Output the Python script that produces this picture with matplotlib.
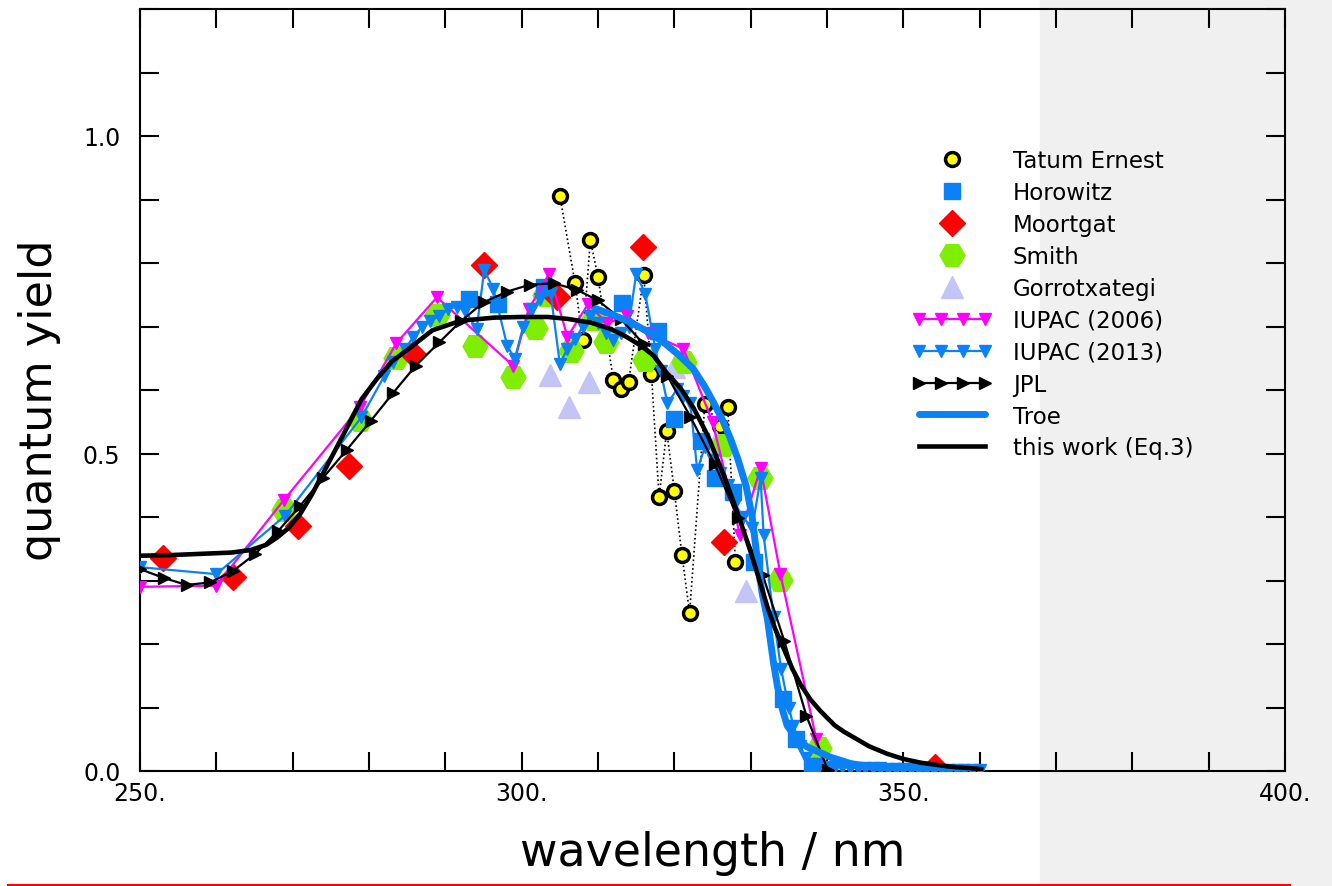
import matplotlib
matplotlib.use("Agg")
import matplotlib.pyplot as plt
from matplotlib.patches import Rectangle
from matplotlib.lines import Line2D
from matplotlib.legend_handler import HandlerLine2D

# quantum yield measurements vs wavelength (nm)
tatum_wl = [305, 307, 308, 309, 310, 312, 313, 314, 316, 317,
            318, 319, 320, 321, 322, 324, 326, 327, 328]
tatum_qy = [0.906, 0.768, 0.678, 0.836, 0.778, 0.616, 0.602, 0.612,
            0.781, 0.625, 0.431, 0.536, 0.441, 0.340, 0.249, 0.578,
            0.544, 0.573, 0.329]

horowitz_wl = [293.1, 296.9, 302.9, 313.1, 317.9, 320.0, 323.5, 325.3, 327.7,
               330.5, 334.2, 336.0, 338.0]
horowitz_qy = [0.743, 0.735, 0.762, 0.737, 0.693, 0.554, 0.520, 0.462, 0.439,
               0.329, 0.113, 0.050, 0.008]

moortgat_wl = [253.0, 262.2, 270.7, 277.4, 285.8, 295.1, 304.6, 315.9, 326.5,
               339.1, 354.1]
moortgat_qy = [0.335, 0.305, 0.386, 0.480, 0.657, 0.797, 0.746, 0.825, 0.360,
               0.0, 0.006]

smith_wl = [268.9, 278.8, 283.6, 288.9, 293.9, 298.9, 301.7, 303.0, 306.4,
            309.5, 311.1, 316.1, 321.3, 326.4, 331.2, 333.8, 338.9]
smith_qy = [0.411, 0.552, 0.650, 0.718, 0.670, 0.620, 0.698, 0.750, 0.661,
            0.712, 0.676, 0.648, 0.644, 0.513, 0.462, 0.301, 0.037]

gorro_wl = [303.7, 306.2, 308.8, 320.0, 325.5, 329.4]
gorro_qy = [0.623, 0.573, 0.612, 0.637, 0.518, 0.284]

iupac06_wl = [250.0, 260.0, 268.8, 278.8, 283.6, 288.9, 298.9, 300.9, 303.6,
              306.0, 308.7, 311.2, 313.8, 316.5, 321.2, 325.0, 328.6, 331.3,
              333.9, 338.6, 339.8]
iupac06_qy = [0.290, 0.292, 0.426, 0.573, 0.674, 0.746, 0.638, 0.727, 0.783,
              0.684, 0.735, 0.705, 0.717, 0.690, 0.665, 0.550, 0.372, 0.477,
              0.310, 0.050, 0.002]

iupac13_wl = [250.0, 260.0, 269.0, 279.0, 282.0, 283.2, 284.7, 285.8, 286.9,
              288.0, 289.2, 290.4, 291.5, 292.6, 294.1, 295.1, 296.3, 298.1,
              299.1, 300.2, 301.3, 302.4, 303.8, 305.0, 306.0, 307.0, 308.0,
              309.0, 310.0, 311.0, 312.0, 313.0, 314.0, 315.0, 316.2, 317.5,
              318.2, 319.1, 320.4, 321.2, 322.1, 323.0, 324.0, 325.0, 326.0,
              327.0, 328.0, 329.0, 330.2, 331.3, 331.7, 333.0, 334.0, 335.0,
              335.6, 336.5, 337.2, 338.0, 339.0, 340.0, 341.0, 342.0, 343.0,
              344.0, 345.0, 346.0, 347.0, 348.0, 349.0, 350.0, 351.0, 352.0,
              353.0, 354.0, 355.0, 356.0, 357.0, 358.0, 359.0, 360.0]
iupac13_qy = [0.321, 0.310, 0.402, 0.557, 0.622, 0.644, 0.665, 0.683, 0.699,
              0.709, 0.716, 0.728, 0.731, 0.725, 0.696, 0.789, 0.759, 0.670,
              0.649, 0.700, 0.728, 0.743, 0.752, 0.641, 0.665, 0.680, 0.700,
              0.716, 0.705, 0.690, 0.678, 0.690, 0.700, 0.783, 0.751, 0.665,
              0.630, 0.579, 0.602, 0.590, 0.579, 0.474, 0.510, 0.490, 0.470,
              0.450, 0.420, 0.400, 0.382, 0.461, 0.371, 0.242, 0.160, 0.100,
              0.071, 0.040, 0.020, 0.011, 0.008, 0.007, 0.006, 0.006, 0.005,
              0.005, 0.004, 0.004, 0.004, 0.003, 0.003, 0.003, 0.003, 0.002,
              0.002, 0.002, 0.002, 0.002, 0.001, 0.001, 0.001, 0.001]

jpl_wl = [250.0, 253.1, 256.1, 259.2, 262.2, 265.1, 268.1, 271.0, 274.0, 277.1,
          280.2, 283.2, 286.1, 289.2, 292.0, 295.0, 298.1, 301.1, 304.2, 307.2,
          310.0, 313.0, 316.0, 319.1, 322.1, 325.3, 328.3, 331.6, 334.4, 337.3,
          340.1]
jpl_qy = [0.318, 0.304, 0.293, 0.297, 0.315, 0.342, 0.378, 0.418, 0.462, 0.506,
          0.551, 0.596, 0.638, 0.675, 0.708, 0.738, 0.755, 0.766, 0.768, 0.758,
          0.741, 0.712, 0.672, 0.622, 0.558, 0.483, 0.399, 0.308, 0.205, 0.087,
          0.002]

troe_wl = [309.7, 312.0, 314.2, 316.5, 318.6, 320.6, 322.5, 324.0, 325.1, 326.3,
           327.3, 328.3, 329.4, 330.2, 330.8, 331.5, 332.2, 333.0, 333.5, 334.2,
           334.8, 336.0, 337.4, 340.4, 343.0, 345.8, 350.0, 355.0, 360.2]
troe_qy = [0.728, 0.718, 0.707, 0.692, 0.675, 0.655, 0.633, 0.605, 0.581, 0.553,
           0.525, 0.492, 0.449, 0.400, 0.340, 0.280, 0.239, 0.170, 0.134, 0.095,
           0.071, 0.052, 0.038, 0.022, 0.012, 0.006, 0.003, 0.001, 0.0005]

fit_wl = [250.0, 254.0, 258.0, 262.0, 264.5, 266.5, 268.0, 269.5, 271.0, 272.5,
          274.3, 276.0, 277.6, 279.0, 281.0, 283.0, 285.0, 288.3, 292.0, 296.4,
          300.0, 303.4, 306.0, 309.1, 311.7, 313.4, 315.6, 317.3, 319.0, 320.8,
          322.5, 323.5, 324.5, 325.5, 326.5, 327.5, 328.6, 330.0, 331.2, 332.2,
          333.2, 334.5, 335.5, 336.6, 337.8, 339.1, 340.0, 341.0, 342.2, 343.5,
          345.5, 347.9, 350.0, 352.3, 356.0, 360.2]
fit_qy = [0.339, 0.340, 0.342, 0.344, 0.348, 0.356, 0.368, 0.383, 0.405, 0.435,
          0.476, 0.515, 0.552, 0.585, 0.617, 0.645, 0.663, 0.694, 0.709, 0.714,
          0.715, 0.715, 0.712, 0.706, 0.696, 0.686, 0.670, 0.654, 0.627, 0.603,
          0.572, 0.549, 0.525, 0.495, 0.465, 0.432, 0.395, 0.345, 0.298, 0.258,
          0.224, 0.188, 0.160, 0.135, 0.113, 0.095, 0.084, 0.072, 0.062, 0.053,
          0.039, 0.027, 0.019, 0.013, 0.007, 0.003]

x_ticks = list(range(250, 401, 10))
x_labels = {250: "250.", 300: "300.", 350: "350.", 400: "400."}
y_ticks = [round(0.1 * i, 1) for i in range(13)]
y_labels = {0.0: "0.0", 0.5: "0.5", 1.0: "1.0"}

BLUE = "#0a82f5"
MAGENTA = "#ff00ff"
GREEN = "#80ee00"
LAVENDER = "#c4c4f6"

plt.rcParams["font.family"] = "DejaVu Sans"

fig = plt.figure(figsize=(13.32, 8.87), dpi=100)
fig.patches.append(Rectangle((1040 / 1332, 0), 1 - 1040 / 1332, 1,
                             transform=fig.transFigure, color="#f0f0f0",
                             zorder=-10))
fig.add_artist(Line2D([8 / 1332, 1290 / 1332], [1 - 885.5 / 887] * 2,
                      transform=fig.transFigure, color="red", lw=1.5))

ax = fig.add_axes([140 / 1332, 1 - 772 / 887, 1145 / 1332, 762 / 887])
ax.set_facecolor("none")

ax.plot(tatum_wl, tatum_qy, color="black", lw=1.2, ls=(0, (1, 1.6)), zorder=1.5)
h_tatum, = ax.plot(tatum_wl, tatum_qy, ls="none", marker="o", ms=10,
                   mfc="#ffff00", mec="black", mew=2.5, zorder=1.8,
                   label="Tatum Ernest")
h_gorro, = ax.plot(gorro_wl, gorro_qy, ls="none", marker="^", ms=16,
                   color=LAVENDER, zorder=2, label="Gorrotxategi")
h_smith, = ax.plot(smith_wl, smith_qy, ls="none", marker="H", ms=18,
                   color=GREEN, zorder=2, label="Smith")
h_moort, = ax.plot(moortgat_wl, moortgat_qy, ls="none", marker="D", ms=13,
                   color="red", zorder=2, label="Moortgat")
h_horo, = ax.plot(horowitz_wl, horowitz_qy, ls="none", marker="s", ms=12,
                  color=BLUE, zorder=3, label="Horowitz")
h_i06, = ax.plot(iupac06_wl, iupac06_qy, color=MAGENTA, lw=1.6, marker="v",
                 ms=9, zorder=4, label="IUPAC (2006)")
h_i13, = ax.plot(iupac13_wl, iupac13_qy, color=BLUE, lw=1.6, marker="v",
                 ms=9, zorder=4, label="IUPAC (2013)")
h_jpl, = ax.plot(jpl_wl, jpl_qy, color="black", lw=1.6, marker=">", ms=9,
                 zorder=5, label="JPL")
h_troe, = ax.plot(troe_wl, troe_qy, color=BLUE, lw=5, zorder=5,
                  solid_capstyle="round", label="Troe")
h_fit, = ax.plot(fit_wl, fit_qy, color="black", lw=3.3, zorder=6,
                 label="this work (Eq.3)")

ax.set_xlim(250, 400)
ax.set_ylim(0, 1.2)
ax.set_xticks(x_ticks)
ax.set_xticklabels([x_labels.get(t, "") for t in x_ticks])
ax.set_yticks(y_ticks)
ax.set_yticklabels([y_labels.get(t, "") for t in y_ticks])
ax.tick_params(direction="in", length=14, width=1.5, top=True, right=True,
               labelsize=17)
ax.tick_params(axis="x", pad=7)
ax.tick_params(axis="y", pad=14)
for s in ax.spines.values():
    s.set_linewidth(1.5)

ax.set_xlabel("wavelength / nm", fontsize=33, labelpad=18)
fig.text(40 / 1332, 1 - 400 / 887, "quantum yield", fontsize=32,
         rotation=90, ha="center", va="center")

handles = [h_tatum, h_horo, h_moort, h_smith, h_gorro, h_i06, h_i13, h_jpl,
           h_troe, h_fit]
single = HandlerLine2D(numpoints=1)
leg = ax.legend(handles=handles, loc="upper left",
                bbox_to_anchor=(912 / 1332, 1 - 150 / 887),
                bbox_transform=fig.transFigure, frameon=False, fontsize=16.5,
                numpoints=4, handlelength=3.5, handletextpad=0.9,
                labelspacing=0.39, borderpad=0, borderaxespad=0,
                handler_map={h: single for h in
                             [h_tatum, h_horo, h_moort, h_smith, h_gorro]})

fig.savefig("out.png", dpi=100)
